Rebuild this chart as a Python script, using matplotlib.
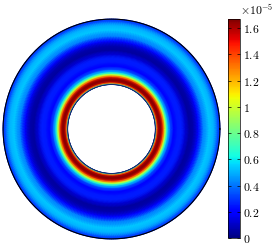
import numpy as np
import matplotlib
matplotlib.use('Agg')
import matplotlib.pyplot as plt

plt.rcParams['mathtext.fontset'] = 'cm'

# radial profile (r normalised by outer radius)
r_pts = [0.405, 0.410, 0.418, 0.430, 0.445, 0.462, 0.478, 0.493, 0.508,
         0.523, 0.545, 0.573, 0.609, 0.645, 0.682, 0.718, 0.755, 0.80,
         0.845, 0.90, 0.945, 0.982, 1.0]
val_pts = [0.0, 0.7, 1.35, 1.6, 1.66, 1.6, 1.35, 1.0, 0.7,
           0.5, 0.32, 0.19, 0.25, 0.26, 0.12, 0.05, 0.07, 0.22,
           0.42, 0.54, 0.50, 0.34, 0.28]
scale = 1e-5
vmax = 1.67

cb_ticks = [0, 0.2, 0.4, 0.6, 0.8, 1.0, 1.2, 1.4, 1.6]
cb_labels = ['0', '0.2', '0.4', '0.6', '0.8', '1', '1.2', '1.4', '1.6']

fig = plt.figure(figsize=(2.73, 2.45), dpi=100)
ax = fig.add_axes([2/273, 5/245, 219/273, 222/245])

theta = np.linspace(0, 2*np.pi, 361)
R, T = np.meshgrid(np.array(r_pts), theta)
C = np.tile(np.array(val_pts) * scale, (len(theta), 1))
mesh = ax.pcolormesh(R*np.cos(T), R*np.sin(T), C, shading='gouraud',
                     cmap='jet', vmin=0, vmax=vmax*scale, rasterized=True)
ax.plot(np.cos(theta), np.sin(theta), color='black', lw=0.8)
ax.plot(r_pts[0]*np.cos(theta), r_pts[0]*np.sin(theta), color='#10206a', lw=0.6)
ax.set_xlim(-1.01, 1.01)
ax.set_ylim(-1.01, 1.01)
ax.axis('off')

cax = fig.add_axes([228/273, 7/245, 12/273, 219/245])
cb = fig.colorbar(mesh, cax=cax)
cb.set_ticks([t*scale for t in cb_ticks])
cb.set_ticklabels(['$%s$' % s for s in cb_labels])
cax.tick_params(direction='in', length=2.5, width=0.5, labelsize=8.5, pad=2,
                left=True, right=True)
cb.outline.set_linewidth(0.5)
fig.text(240/273, 230/245, r'$\times10^{-5}$', fontsize=8.5, ha='left', va='baseline')

fig.savefig('out.png', dpi=100)
